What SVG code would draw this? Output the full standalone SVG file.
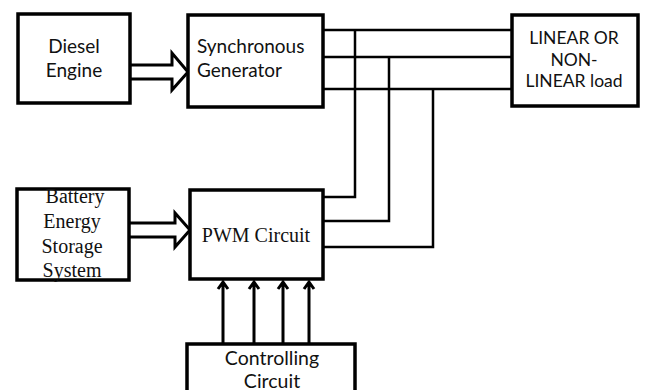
<svg xmlns="http://www.w3.org/2000/svg" width="645" height="390" viewBox="0 0 645 390">
<defs>
<style>
.box{fill:#fff;stroke:#000;stroke-width:3.5}
.ln{fill:none;stroke:#000;stroke-width:2.5}
.ar{fill:none;stroke:#000;stroke-width:3}
.ha{fill:#fff;stroke:#000;stroke-width:3;stroke-linejoin:miter}
.sans{font-family:Lato,"Open Sans","Liberation Sans",sans-serif;fill:#111}
.serif{font-family:"Liberation Serif","DejaVu Serif",serif;fill:#111}
</style>
</defs>
<rect width="645" height="390" fill="#fff"/>
<g id="connectors">
<path class="ln" d="M323,30 H512 M323,57 H512 M323,89 H512"/>
<path class="ln" d="M355,30 V197 H323 M389,57 V221 H323 M433,89 V247 H323"/>
<path class="ha" d="M130,65 H172 V53 L188,72 L172,90 V79 H130"/>
<path class="ha" d="M129,223 H175 V213 L190,230 L175,247 V237 H129"/>
<path class="ar" d="M223,344 V282 M218,289 L223,282 L228,289"/>
<path class="ar" d="M254,344 V282 M249,289 L254,282 L259,289"/>
<path class="ar" d="M283,344 V282 M278,289 L283,282 L288,289"/>
<path class="ar" d="M309,344 V282 M304,289 L309,282 L314,289"/>
</g>
<g id="diesel">
<rect class="box" x="18" y="14" width="112" height="89"/>
<text class="sans" font-size="19" text-anchor="middle" x="74" y="53">Diesel</text>
<text class="sans" font-size="19" text-anchor="middle" x="74" y="77">Engine</text>
</g>
<g id="generator">
<rect class="box" x="188" y="15" width="135" height="92"/>
<text class="sans" font-size="19" x="197" y="53">Synchronous</text>
<text class="sans" font-size="19" x="197" y="77">Generator</text>
</g>
<g id="load">
<rect class="box" x="512" y="15" width="126" height="91"/>
<text class="sans" font-size="17.5" text-anchor="middle" x="574" y="44">LINEAR OR</text>
<text class="sans" font-size="17.5" text-anchor="middle" x="574" y="66">NON-</text>
<text class="sans" font-size="17.5" text-anchor="middle" x="574" y="87">LINEAR load</text>
</g>
<g id="battery">
<rect class="box" x="17" y="189" width="112" height="91"/>
<text class="serif" font-size="20" text-anchor="middle" x="75" y="203">Battery</text>
<text class="serif" font-size="20" text-anchor="middle" x="72" y="228">Energy</text>
<text class="serif" font-size="20" text-anchor="middle" x="72" y="253">Storage</text>
<text class="serif" font-size="20" text-anchor="middle" x="72" y="277">System</text>
</g>
<g id="pwm">
<rect class="box" x="190" y="190" width="133" height="89"/>
<text class="serif" font-size="20" text-anchor="middle" x="256" y="242">PWM Circuit</text>
</g>
<g id="controlling">
<rect class="box" x="187" y="344" width="168" height="60"/>
<text class="sans" font-size="19.5" text-anchor="middle" x="272" y="365">Controlling</text>
<text class="sans" font-size="19.5" text-anchor="middle" x="272" y="388">Circuit</text>
</g>
</svg>
